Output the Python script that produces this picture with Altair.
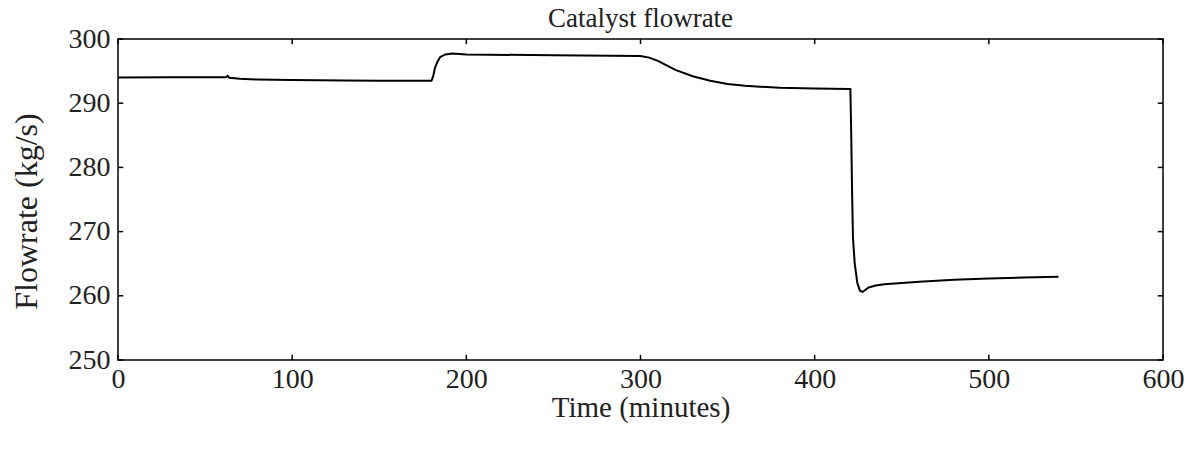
import altair as alt
import pandas as pd

# Catalyst flowrate trace
time_min = [0, 30, 62, 63, 64, 70, 80, 100, 130, 150, 180,
            181, 182, 183.5, 185, 188, 192, 200, 250, 300,
            305, 310, 315, 320, 330, 340, 350, 360, 380, 400, 420,
            420.5, 421, 421.5, 422, 423, 424.5, 426, 427.5, 429, 431,
            435, 440, 450, 460, 480, 500, 520, 540]
flow = [294.0, 294.05, 294.05, 294.25, 293.95, 293.8, 293.7, 293.6, 293.55, 293.5, 293.5,
        294.2, 295.5, 296.5, 297.2, 297.6, 297.75, 297.6, 297.45, 297.35,
        297.1, 296.6, 295.9, 295.2, 294.2, 293.5, 293.0, 292.7, 292.4, 292.3, 292.2,
        292.2, 285.0, 276.0, 269.0, 265.0, 262.0, 260.8, 260.6, 260.9, 261.3,
        261.6, 261.8, 262.0, 262.2, 262.5, 262.7, 262.85, 262.95]

x_ticks = [0, 100, 200, 300, 400, 500, 600]
y_ticks = [250, 260, 270, 280, 290, 300]

df = pd.DataFrame({"t": time_min, "f": flow})

FONT = "Liberation Serif"
INK = "#222222"
xs = alt.Scale(domain=[0, 600], nice=False, zero=False)
ys = alt.Scale(domain=[250, 300], nice=False, zero=False)

line = alt.Chart(df).mark_line(color="black", strokeWidth=2).encode(
    x=alt.X("t:Q", scale=xs,
            axis=alt.Axis(values=x_ticks, title="Time (minutes)", ticks=False, domain=False,
                          grid=False, labelFont=FONT, labelFontSize=28, labelColor=INK,
                          labelFlush=False, labelPadding=5, titleFont=FONT, titleFontSize=29,
                          titleFontWeight="normal", titleColor=INK, titlePadding=0)),
    y=alt.Y("f:Q", scale=ys,
            axis=alt.Axis(values=y_ticks, title="Flowrate (kg/s)", ticks=False, domain=False,
                          grid=False, labelFont=FONT, labelFontSize=28, labelColor=INK,
                          labelFlush=False, labelPadding=8, titleFont=FONT, titleFontSize=32,
                          titleFontWeight="normal", titleColor=INK, titlePadding=25,
                          titleY=172)),
)

xt = pd.DataFrame({"v": x_ticks})
yt = pd.DataFrame({"v": y_ticks})

bottom = alt.Chart(xt).mark_rule(color="black", strokeWidth=1.5).encode(
    x=alt.X("v:Q", scale=xs), y=alt.datum(250), y2=alt.datum(250.8))
top = alt.Chart(xt).mark_rule(color="black", strokeWidth=1.5).encode(
    x=alt.X("v:Q", scale=xs), y=alt.datum(300), y2=alt.datum(299.2))
left = alt.Chart(yt).mark_rule(color="black", strokeWidth=1.5).encode(
    y=alt.Y("v:Q", scale=ys), x=alt.datum(0), x2=alt.datum(3))
right = alt.Chart(yt).mark_rule(color="black", strokeWidth=1.5).encode(
    y=alt.Y("v:Q", scale=ys), x=alt.datum(600), x2=alt.datum(597))

chart = alt.layer(line, bottom, top, left, right).properties(
    width=1045, height=321,
    title=alt.TitleParams("Catalyst flowrate", font=FONT, fontSize=27, fontWeight="normal",
                          color=INK, offset=0, dy=8, frame="group"),
    autosize=alt.AutoSizeParams(type="none"),
    padding={"left": 118, "top": 39, "right": 34, "bottom": 92},
).configure(background="white").configure_view(stroke="black", strokeWidth=1.5)

chart.save("out.html", embed_options={"renderer": "svg", "actions": False})
